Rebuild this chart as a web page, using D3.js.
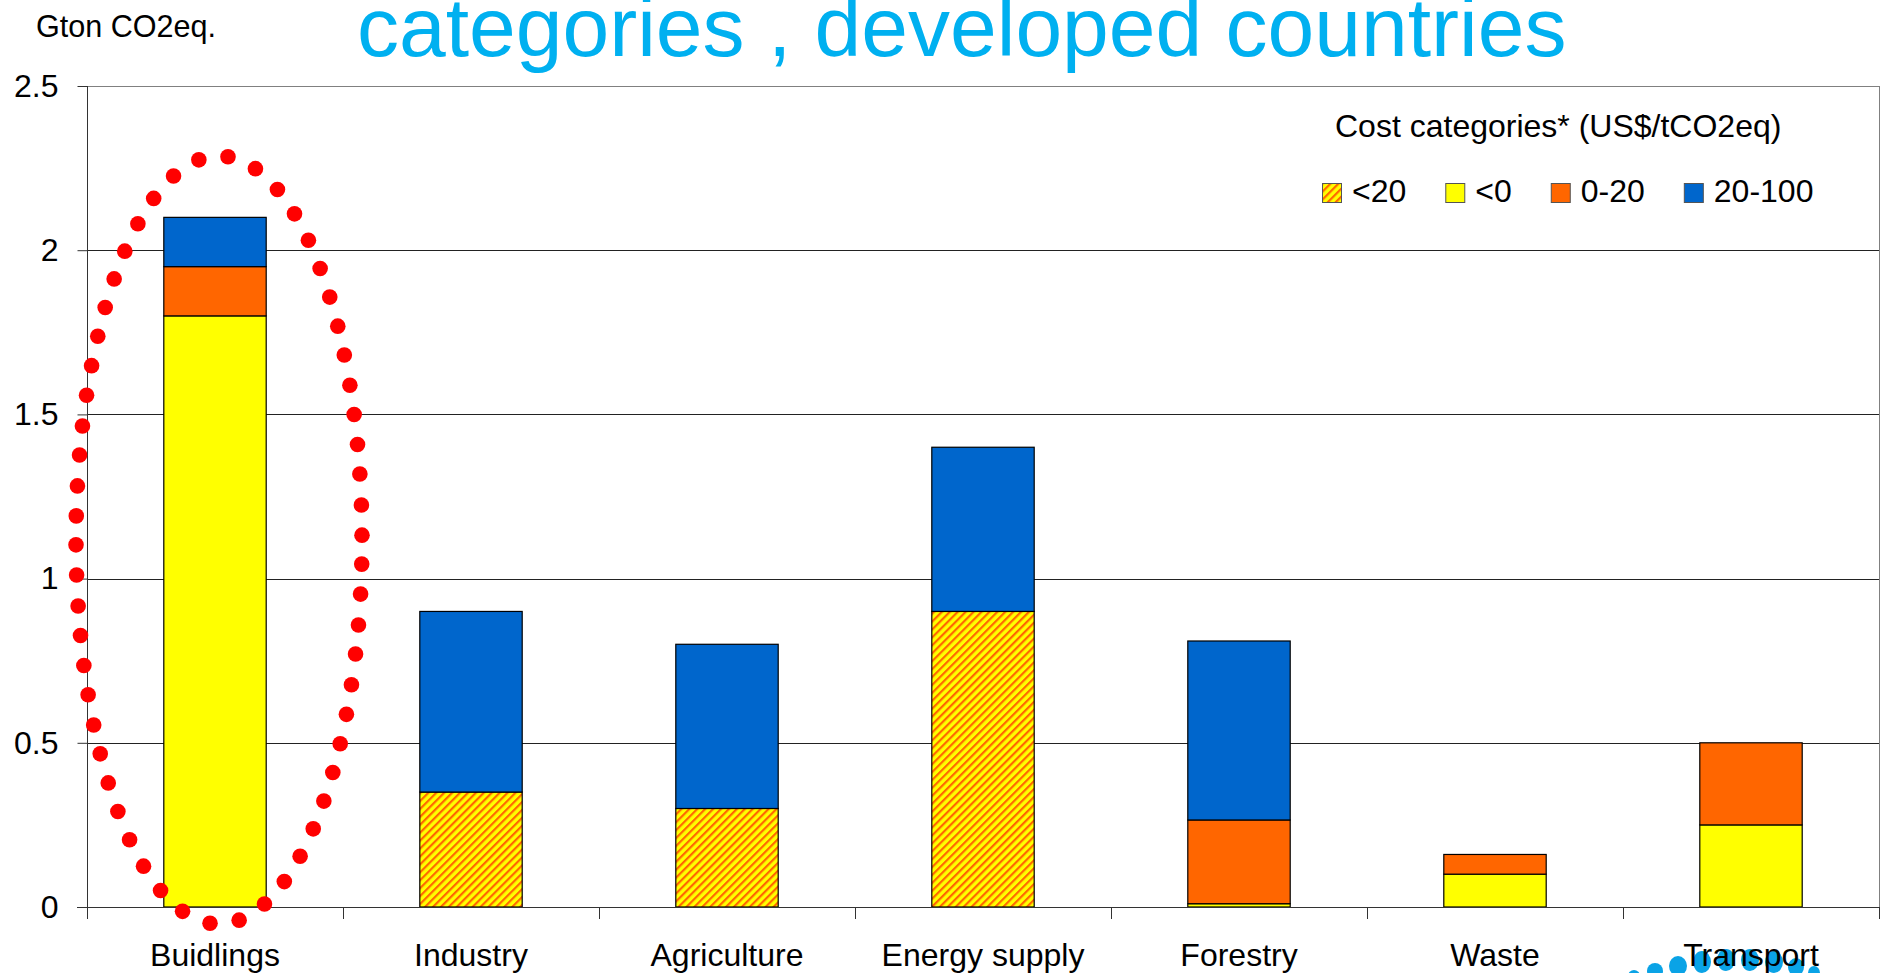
<!DOCTYPE html>
<html>
<head>
<meta charset="utf-8">
<script src="https://cdn.jsdelivr.net/npm/d3@7"></script>
<style>
  html, body { margin: 0; padding: 0; background: #ffffff; }
  svg { display: block; font-family: "Liberation Sans", Arial, sans-serif; }
</style>
</head>
<body>
<svg id="chart" width="1886" height="973"></svg>
<script>
// Mitigation potential by sector and cost category (Gton CO2eq.)
const categories = ["Buidlings", "Industry", "Agriculture", "Energy supply", "Forestry", "Waste", "Transport"];
const seriesKeys = ["<20", "<0", "0-20", "20-100"];
const below20    = [0.00, 0.35, 0.30, 0.90, 0.000, 0.00, 0.00];
const belowZero  = [1.80, 0.00, 0.00, 0.00, 0.010, 0.10, 0.25];
const zeroTo20   = [0.15, 0.00, 0.00, 0.00, 0.255, 0.06, 0.25];
const twentyTo100 = [0.15, 0.55, 0.50, 0.50, 0.545, 0.00, 0.00];
const yTicks = [0, 0.5, 1, 1.5, 2, 2.5];
const yTickLabels = ["0", "0.5", "1", "1.5", "2", "2.5"];

const titleText = "categories , developed countries";
const unitLabel = "Gton CO2eq.";
const legendTitle = "Cost categories* (US$/tCO2eq)";

const colors = { "<20": "url(#hatch)", "<0": "#FFFF00", "0-20": "#FF6600", "20-100": "#0066CC" };

// Rows for the stack layout
const rows = categories.map((c, i) => ({
  category: c,
  "<20": below20[i],
  "<0": belowZero[i],
  "0-20": zeroTo20[i],
  "20-100": twentyTo100[i]
}));

const svg = d3.select("#chart");
const plot = { left: 87, right: 1879, top: 86, bottom: 907 };

const x = d3.scaleBand().domain(categories).range([plot.left, plot.right]).padding(0);
const y = d3.scaleLinear().domain([0, 2.5]).range([plot.bottom, plot.top]);
const barWidth = x.step() * 0.4;

// Hatched fill: orange diagonal stripes on yellow
const defs = svg.append("defs");
const pat = defs.append("pattern")
  .attr("id", "hatch")
  .attr("patternUnits", "userSpaceOnUse")
  .attr("width", 5.6).attr("height", 5.6)
  .attr("patternTransform", "rotate(45)");
pat.append("rect").attr("width", 5.6).attr("height", 5.6).attr("fill", "#FFFF00");
pat.append("rect").attr("x", 0).attr("y", 0).attr("width", 2.2).attr("height", 5.6).attr("fill", "#FF6600");

// Emblem at the bottom edge, partly hidden behind the last label
const emblem = svg.append("g").attr("fill", "#0AA3E6");
[[1634, 976, 6, 6], [1655, 971, 8, 8], [1678, 966, 9, 10], [1702, 962, 9, 11],
 [1726, 960, 9, 11], [1750, 960, 9, 11], [1774, 962, 9, 11], [1796, 967, 8, 9], [1814, 973, 6, 7]]
  .forEach(([cx, cy, rx, ry]) => emblem.append("ellipse")
    .attr("cx", cx).attr("cy", cy).attr("rx", rx).attr("ry", ry));

// Horizontal gridlines
svg.append("g")
  .selectAll("line")
  .data(yTicks.filter(d => d > 0))
  .join("line")
  .attr("x1", plot.left).attr("x2", plot.right)
  .attr("y1", d => Math.round(y(d)) + 0.5).attr("y2", d => Math.round(y(d)) + 0.5)
  .attr("stroke", d => d === 2.5 ? "#808080" : "#222")
  .attr("stroke-width", 1);

// Right border of plot area
svg.append("line")
  .attr("x1", plot.right + 0.5).attr("x2", plot.right + 0.5)
  .attr("y1", plot.top).attr("y2", plot.bottom)
  .attr("stroke", "#808080").attr("stroke-width", 1);

// Stacked bars
const stacked = d3.stack().keys(seriesKeys)(rows);
const barG = svg.append("g");
stacked.forEach(layer => {
  barG.append("g")
    .selectAll("rect")
    .data(layer.filter(d => d[1] - d[0] > 0))
    .join("rect")
    .attr("x", d => x(d.data.category) + x.bandwidth() / 2 - barWidth / 2)
    .attr("width", barWidth)
    .attr("y", d => y(d[1]))
    .attr("height", d => y(d[0]) - y(d[1]))
    .attr("fill", colors[layer.key])
    .attr("stroke", "#000")
    .attr("stroke-width", 1.2);
});

// Y axis
const yAxis = d3.axisLeft(y)
  .tickValues(yTicks)
  .tickFormat((d, i) => yTickLabels[i])
  .tickSize(10)
  .tickPadding(19);
const yg = svg.append("g")
  .attr("transform", `translate(${plot.left + 0.5},0)`)
  .call(yAxis);
yg.select(".domain").attr("stroke", "#333").attr("stroke-width", 1).attr("d", `M0,${plot.top}V${plot.bottom}`);
yg.selectAll(".tick line").attr("stroke", "#333");
yg.selectAll(".tick text")
  .attr("font-family", "Liberation Sans, Arial, sans-serif")
  .attr("font-size", 32).attr("fill", "#000");

// X axis: baseline, boundary ticks and category labels
const xg = svg.append("g");
xg.append("line")
  .attr("x1", plot.left - 10).attr("x2", plot.right)
  .attr("y1", plot.bottom + 0.5).attr("y2", plot.bottom + 0.5)
  .attr("stroke", "#333").attr("stroke-width", 1);
const boundaries = categories.map(c => x(c)).concat([x.range()[1]]);
xg.selectAll("line.bound")
  .data(boundaries)
  .join("line")
  .attr("class", "bound")
  .attr("x1", d => Math.round(d) + 0.5).attr("x2", d => Math.round(d) + 0.5)
  .attr("y1", plot.bottom).attr("y2", plot.bottom + 12)
  .attr("stroke", "#333").attr("stroke-width", 1);

xg.selectAll("text")
  .data(categories)
  .join("text")
  .attr("x", d => x(d) + x.bandwidth() / 2)
  .attr("y", 966)
  .attr("text-anchor", "middle")
  .attr("font-size", 32)
  .attr("fill", "#000")
  .text(d => d);

// Unit label and title
svg.append("text")
  .attr("x", 36).attr("y", 37)
  .attr("font-size", 32).attr("fill", "#000")
  .attr("textLength", 180).attr("lengthAdjust", "spacingAndGlyphs")
  .text(unitLabel);

svg.append("text")
  .attr("x", 357).attr("y", 56)
  .attr("font-size", 84).attr("fill", "#00B0F0")
  .text(titleText);

// Legend
const lg = svg.append("g");
lg.append("text")
  .attr("x", 1335).attr("y", 137)
  .attr("font-size", 32).attr("fill", "#000")
  .text(legendTitle);

let lx = 1322;
seriesKeys.forEach(k => {
  lg.append("rect")
    .attr("x", lx + 0.5).attr("y", 183.5)
    .attr("width", 19).attr("height", 19)
    .attr("fill", colors[k])
    .attr("stroke", "#555").attr("stroke-width", 1);
  const t = lg.append("text")
    .attr("x", lx + 30).attr("y", 202)
    .attr("font-size", 32).attr("fill", "#000")
    .text(k);
  lx += 30 + t.node().getComputedTextLength() + 39;
});

// Red dotted ellipse highlighting the buildings sector
const ring = { cx: 219, cy: 540, rx: 143, ry: 384, count: 58, r: 7.8 };
const samples = d3.range(0, 2001).map(i => {
  const a = -Math.PI / 2 + (i / 2000) * 2 * Math.PI;
  return [ring.cx + ring.rx * Math.cos(a), ring.cy + ring.ry * Math.sin(a)];
});
const cum = [0];
for (let i = 1; i < samples.length; i++) {
  cum.push(cum[i - 1] + Math.hypot(samples[i][0] - samples[i - 1][0], samples[i][1] - samples[i - 1][1]));
}
const total = cum[cum.length - 1];
const dots = d3.range(ring.count).map(k => {
  const target = (k + 0.3) / ring.count * total;
  const idx = d3.bisectLeft(cum, target);
  return samples[Math.min(idx, samples.length - 1)];
});
svg.append("g")
  .selectAll("circle")
  .data(dots)
  .join("circle")
  .attr("cx", d => d[0]).attr("cy", d => d[1])
  .attr("r", ring.r)
  .attr("fill", "#FF0000");
</script>
</body>
</html>
